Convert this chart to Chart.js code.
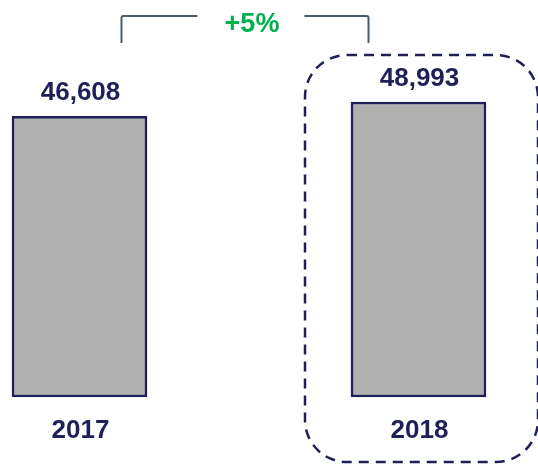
<!DOCTYPE html>
<html>
<head>
<meta charset="utf-8">
<script src="https://cdn.jsdelivr.net/npm/chart.js@4"></script>
<style>
  html, body { margin: 0; padding: 0; background: #fff; }
  #wrap { width: 538px; height: 465px; position: relative; }
</style>
</head>
<body>
<div id="wrap"><canvas id="myChart"></canvas></div>
<script>
// Données du graphique
const years = ['2017', '2018'];
const values = [46608, 48993];
const valueLabels = ['46,608', '48,993'];
const changeLabel = '+5%';

const navy = '#1f1f5a';

// Plugin : étiquettes, accolade +5% et cadre pointillé autour de 2018
const annotations = {
    id: 'annotations',
    afterDatasetsDraw(chart) {
        const ctx = chart.ctx;
        const y = chart.scales.y;
        const meta = chart.getDatasetMeta(0);
        ctx.save();

        // valeurs au-dessus des barres et années en dessous
        ctx.fillStyle = navy;
        ctx.textAlign = 'center';
        ctx.textBaseline = 'alphabetic';
        ctx.font = 'bold 26px "Liberation Sans", Arial, sans-serif';
        meta.data.forEach((bar, i) => {
            ctx.fillText(valueLabels[i], bar.x + 1, bar.y - 16);
            ctx.fillText(years[i], bar.x + 1, y.bottom + 41);
        });

        // accolade
        const b0 = meta.data[0], b1 = meta.data[1];
        const lx = b0.x + 42, rx = b1.x - 50;
        const topY = 16, botY = 43;
        ctx.strokeStyle = '#4b5a6e';
        ctx.lineWidth = 2;
        ctx.beginPath();
        ctx.moveTo(lx, botY);
        ctx.lineTo(lx, topY + 2);
        ctx.quadraticCurveTo(lx, topY, lx + 2, topY);
        ctx.lineTo(lx + 76, topY);
        ctx.moveTo(rx - 64, topY);
        ctx.lineTo(rx - 2, topY);
        ctx.quadraticCurveTo(rx, topY, rx, topY + 2);
        ctx.lineTo(rx, botY);
        ctx.stroke();

        ctx.fillStyle = '#00b050';
        ctx.font = 'bold 27px "Liberation Sans", Arial, sans-serif';
        ctx.fillText(changeLabel, (lx + rx) / 2 + 7, 32);

        // cadre pointillé arrondi
        const half = b1.width / 2;
        const left = b1.x - half - 46, right = b1.x + half + 52;
        const top = 55, bottom = 462, r = 42;
        ctx.strokeStyle = navy;
        ctx.lineWidth = 2.5;
        ctx.setLineDash([10, 7]);
        ctx.beginPath();
        ctx.roundRect(left, top, right - left, bottom - top, r);
        ctx.stroke();
        ctx.restore();
    }
};

const ctx = document.getElementById('myChart').getContext('2d');
new Chart(ctx, {
    type: 'bar',
    data: {
        datasets: [{
            data: values.map((v, i) => ({ x: i, y: v })),
            backgroundColor: '#b0b0b0',
            borderColor: navy,
            borderWidth: 2.5,
            borderSkipped: false,
            barThickness: 135,
            clip: false
        }]
    },
    options: {
        responsive: true,
        maintainAspectRatio: false,
        animation: false,
        layout: { padding: { left: 0, right: 0, top: 0, bottom: 68 } },
        scales: {
            x: { type: 'linear', display: false, offset: false, min: -0.2345, max: 1.3525 },
            y: { display: false, min: 0, max: 65933 }
        },
        plugins: {
            legend: { display: false },
            tooltip: { enabled: false }
        }
    },
    plugins: [annotations]
});
</script>
</body>
</html>
